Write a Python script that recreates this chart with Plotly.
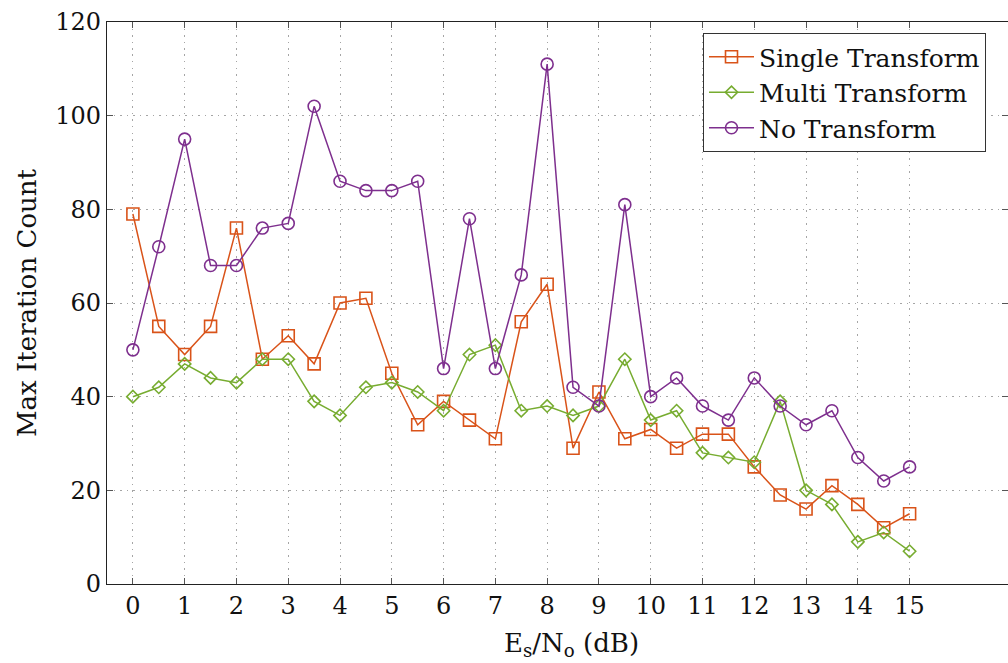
import plotly.graph_objects as go

# Es/No sweep in dB (0 to 15 in 0.5 dB steps)
snr_db = [0, 0.5, 1, 1.5, 2, 2.5, 3, 3.5, 4, 4.5, 5, 5.5, 6, 6.5, 7, 7.5,
          8, 8.5, 9, 9.5, 10, 10.5, 11, 11.5, 12, 12.5, 13, 13.5, 14, 14.5, 15]

single_transform = [79, 55, 49, 55, 76, 48, 53, 47, 60, 61, 45, 34, 39, 35, 31, 56,
                    64, 29, 41, 31, 33, 29, 32, 32, 25, 19, 16, 21, 17, 12, 15]
multi_transform = [40, 42, 47, 44, 43, 48, 48, 39, 36, 42, 43, 41, 37, 49, 51, 37,
                   38, 36, 38, 48, 35, 37, 28, 27, 26, 39, 20, 17, 9, 11, 7]
no_transform = [50, 72, 95, 68, 68, 76, 77, 102, 86, 84, 84, 86, 46, 78, 46, 66,
                111, 42, 38, 81, 40, 44, 38, 35, 44, 38, 34, 37, 27, 22, 25]

x_ticks = list(range(0, 16))
y_ticks = [0, 20, 40, 60, 80, 100, 120]

FONT = "DejaVu Serif"
W, H = 1008, 663
ML, MR, MT, MB = 107, 0, 22, 79

series = [
    ("Single Transform", single_transform, "#D95319", "square-open", 12),
    ("Multi Transform", multi_transform, "#77AC30", "diamond-open", 9.5),
    ("No Transform", no_transform, "#7E2F8E", "circle-open", 12),
]

fig = go.Figure()
for name, vals, color, symbol, size in series:
    fig.add_trace(go.Scatter(
        x=snr_db, y=vals, name=name, mode="lines+markers",
        line=dict(color=color, width=1.5),
        marker=dict(symbol=symbol, size=size, color=color,
                    line=dict(color=color, width=1.6)),
    ))

axis_common = dict(
    showline=True, linecolor="#222", linewidth=1.3, mirror="ticks",
    ticks="inside", ticklen=6, tickwidth=1, tickcolor="#555",
    showgrid=True, gridcolor="#a5a5a5", griddash="1.5px,5px", gridwidth=1.2,
    zeroline=False, tickfont=dict(family=FONT, size=24, color="#111"),
)

fig.update_xaxes(range=[-0.5, 16.9], tickmode="array", tickvals=x_ticks,
                 ticktext=[str(v) for v in x_ticks], **axis_common)
fig.update_yaxes(range=[0, 120], tickmode="array", tickvals=y_ticks,
                 ticktext=[str(v) for v in y_ticks], **axis_common)

pw = W - ML - MR
ph = H - MT - MB

fig.add_annotation(
    text="E<sub>s</sub>/N<sub>o</sub> (dB)", showarrow=False,
    xref="paper", yref="paper", x=(571 - ML) / pw, y=(584 - 644) / ph,
    xanchor="center", yanchor="middle",
    font=dict(family=FONT, size=26, color="#111"),
)
fig.add_annotation(
    text="Max Iteration Count", showarrow=False, textangle=-90,
    xref="paper", yref="paper", x=(27 - ML) / pw, y=0.5,
    xanchor="center", yanchor="middle",
    font=dict(family=FONT, size=26, color="#111"),
)

fig.update_layout(
    width=W, height=H,
    margin=dict(l=ML, r=MR, t=MT, b=MB, pad=0),
    paper_bgcolor="white", plot_bgcolor="white",
    font=dict(family=FONT, size=25, color="#111"),
    showlegend=True,
    legend=dict(
        x=(703 - ML) / pw, y=(584 - 33) / ph, xanchor="left", yanchor="top",
        bgcolor="white", bordercolor="#333", borderwidth=1,
        font=dict(family=FONT, size=25, color="#111"),
        tracegroupgap=0, itemwidth=45,
    ),
)

fig.write_html("out.html")
